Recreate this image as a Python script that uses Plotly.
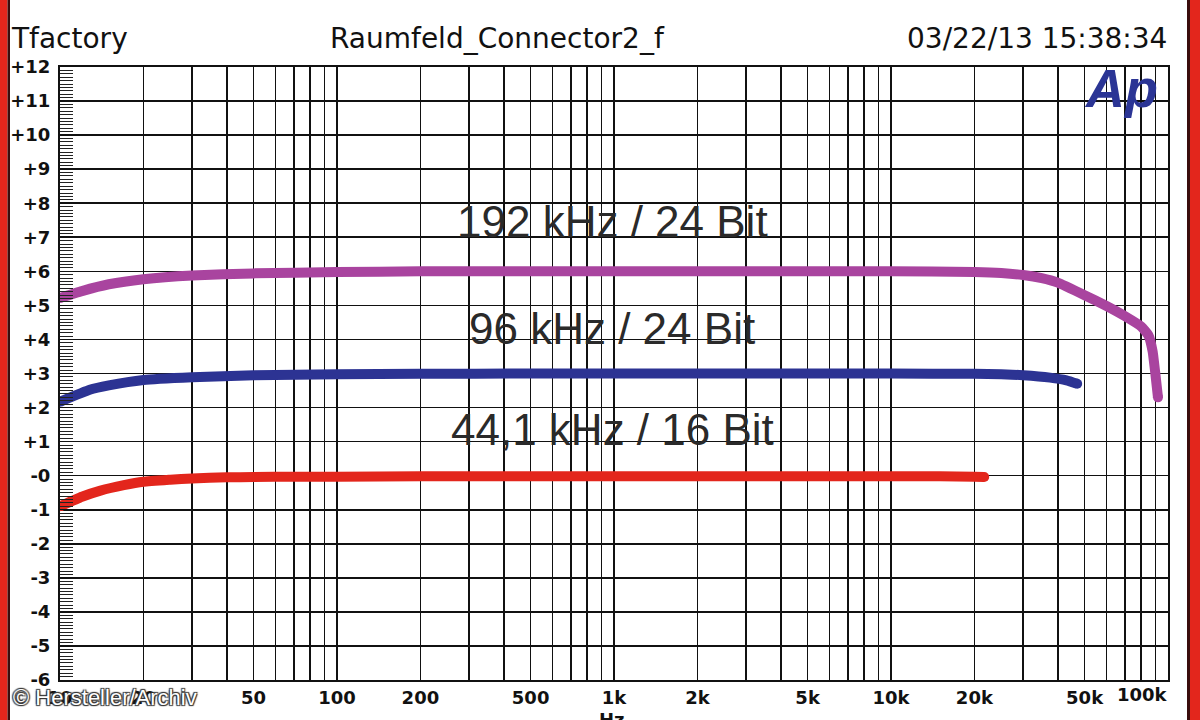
import plotly.graph_objects as go

# ---------------- data ----------------
freq_44k = [10, 12, 14, 17, 20, 25, 30, 40, 50, 70, 100, 200, 500, 1000, 2000, 5000, 10000, 15000, 20000, 21700]
db_44k = [-0.90, -0.62, -0.44, -0.28, -0.18, -0.12, -0.08, -0.05, -0.04, -0.03, -0.03, -0.02, -0.02, -0.02,
          -0.02, -0.02, -0.02, -0.02, -0.03, -0.04]

freq_96k = [10, 12.8, 15, 20, 30, 50, 100, 200, 500, 1000, 5000, 10000, 20000, 25000, 30000, 37500, 43000, 47000]
db_96k = [2.17, 2.52, 2.65, 2.81, 2.89, 2.95, 2.98, 2.99, 3.0, 3.0, 3.0, 3.0, 2.99, 2.98, 2.95, 2.88, 2.80, 2.70]

freq_192k = [10, 12, 15, 20, 30, 50, 100, 200, 1000, 10000, 20000, 25000, 30000, 35000, 40000, 50000,
             60000, 70000, 80000, 85000, 88000, 90000, 92000]
db_192k = [5.22, 5.42, 5.62, 5.77, 5.88, 5.94, 5.98, 6.0, 6.0, 6.0, 5.98, 5.95, 5.89, 5.80, 5.67, 5.30,
           4.98, 4.68, 4.38, 4.12, 3.65, 3.00, 2.30]

series_labels = ["44,1 kHz / 16 Bit", "96 kHz / 24 Bit", "192 kHz / 24 Bit"]
label_db = [1.35, 4.32, 7.45]

x_tickvals = [m * 10 ** e for e in range(1, 5) for m in range(1, 10)] + [100000]
x_ticktext = ["10", "20", "", "", "50", "", "", "", "",
              "100", "200", "", "", "500", "", "", "", "",
              "1k", "2k", "", "", "5k", "", "", "", "",
              "10k", "20k", "", "", "50k", "", "", "", "",
              ""]
x_last_label = "100k"

y_tickvals = list(range(-6, 13))
y_ticktext = ["-6", "-5", "-4", "-3", "-2", "-1", "-0", "+1", "+2", "+3", "+4", "+5", "+6",
              "+7", "+8", "+9", "+10", "+11", "+12"]

header_left = "Tfactory"
header_mid = "Raumfeld_Connector2_f"
header_right = "03/22/13 15:38:34"
x_unit = "Hz"
logo_text = "Ap"
credit = "© Hersteller/Archiv"

# ---------------- layout geometry ----------------
W, H = 1200, 720
L, R, T, B = 60, 1168, 67, 680  # plot area in pixels


def px(x):
    return (x - L) / (R - L)


def py(y):
    return (B - y) / (B - T)


RED = "#e3261c"
BLUE = "#2c3393"
MAGENTA = "#a9449f"

fig = go.Figure()
for f, d, c in [(freq_192k, db_192k, MAGENTA), (freq_96k, db_96k, BLUE), (freq_44k, db_44k, RED)]:
    fig.add_trace(go.Scatter(x=f, y=d, mode="lines",
                             line=dict(color=c, width=10, shape="spline", smoothing=0.4),
                             showlegend=False, hoverinfo="skip"))
    fig.add_trace(go.Scatter(x=[f[0], f[-1]], y=[d[0], d[-1]], mode="markers",
                             marker=dict(color=c, size=10, line=dict(width=0)),
                             showlegend=False, hoverinfo="skip"))

tick_font = dict(family="DejaVu Sans", size=18, color="#111111", weight="bold")

fig.update_xaxes(type="log", range=[1, 5], tickmode="array", tickvals=x_tickvals, ticktext=x_ticktext,
                 showgrid=True, gridcolor="#111111", gridwidth=1.6, ticks="",
                 showline=True, linecolor="#111111", linewidth=2, mirror=True,
                 tickfont=tick_font, zeroline=False, fixedrange=True)
fig.update_yaxes(range=[-6, 12], tickmode="array", tickvals=y_tickvals, ticktext=y_ticktext,
                 showgrid=True, gridcolor="#111111", gridwidth=1.6,
                 ticks="inside", ticklen=13, tickwidth=1.2, tickcolor="#111111",
                 minor=dict(tick0=-6, dtick=0.1, ticks="inside", ticklen=13, tickwidth=1,
                            tickcolor="#222222", showgrid=False),
                 showline=True, linecolor="#111111", linewidth=2, mirror=True,
                 tickfont=tick_font, ticklabelstandoff=4, zeroline=False, fixedrange=True)

annotations = []
# curve labels
for txt, yv in zip(series_labels, label_db):
    annotations.append(dict(text=txt, xref="paper", x=px(612), yref="y", y=yv, showarrow=False,
                            xanchor="center", yanchor="middle",
                            font=dict(family="Liberation Sans", size=44, color="#2a2a2a")))
# header row
hdr_font = dict(family="DejaVu Sans", size=28, color="#111111")
annotations.append(dict(text=header_left, xref="paper", x=px(9), yref="paper", y=py(38), showarrow=False,
                        xanchor="left", yanchor="middle", font=hdr_font))
annotations.append(dict(text=header_mid, xref="paper", x=px(497), yref="paper", y=py(38), showarrow=False,
                        xanchor="center", yanchor="middle", font=hdr_font))
annotations.append(dict(text=header_right, xref="paper", x=px(1169), yref="paper", y=py(38), showarrow=False,
                        xanchor="right", yanchor="middle", font=hdr_font))
# last x label, right-aligned to the 100k line
annotations.append(dict(text=x_last_label, xref="x", x=5, yref="paper", y=py(694), showarrow=False,
                        xanchor="right", yanchor="middle", xshift=2, font=tick_font))
# axis unit
annotations.append(dict(text=x_unit, xref="paper", x=px(612), yref="paper", y=py(707), showarrow=False,
                        xanchor="center", yanchor="top", font=tick_font))
# logo
annotations.append(dict(text="<b><i>" + logo_text + "</i></b>", xref="paper", x=px(1121), yref="paper",
                        y=py(88), showarrow=False, xanchor="center", yanchor="middle",
                        font=dict(family="Liberation Sans", size=54, color="#2b3595")))
# credit
annotations.append(dict(text=credit, xref="paper", x=px(11), yref="paper", y=py(697), showarrow=False,
                        xanchor="left", yanchor="middle",
                        font=dict(family="Liberation Sans", size=22, color="#ffffff",
                                  shadow="1px 1px 1px #333, -1px -1px 1px #333, 1px -1px 1px #333, -1px 1px 1px #333")))

shapes = [
    dict(type="rect", xref="paper", yref="paper", x0=px(0), x1=px(7.5), y0=py(H), y1=py(0),
         fillcolor=RED, line=dict(width=0), layer="above"),
    dict(type="rect", xref="paper", yref="paper", x0=px(7.5), x1=px(10), y0=py(H), y1=py(0),
         fillcolor="#3a0d0d", line=dict(width=0), layer="above"),
    dict(type="rect", xref="paper", yref="paper", x0=px(1187), x1=px(1190), y0=py(H), y1=py(0),
         fillcolor="#3a0d0d", line=dict(width=0), layer="above"),
    dict(type="rect", xref="paper", yref="paper", x0=px(1190), x1=px(W), y0=py(H), y1=py(0),
         fillcolor=RED, line=dict(width=0), layer="above"),
]

fig.update_layout(width=W, height=H, margin=dict(l=L, r=W - R, t=T, b=H - B, autoexpand=False),
                  paper_bgcolor="white", plot_bgcolor="white",
                  annotations=annotations, shapes=shapes, showlegend=False)

fig.write_html("out.html", config={"displayModeBar": False, "staticPlot": True},
               post_script="document.body.style.margin='0px';document.body.style.overflow='hidden';")
